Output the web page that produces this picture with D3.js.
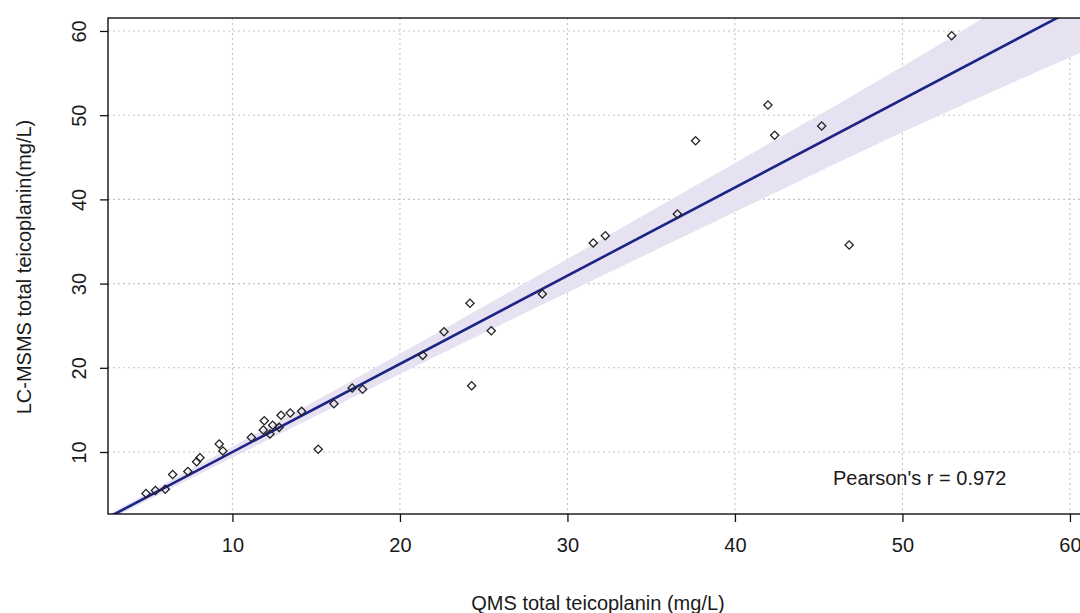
<!DOCTYPE html>
<html>
<head>
<meta charset="utf-8">
<script src="https://cdn.jsdelivr.net/npm/d3@7"></script>
<style>
  html, body { margin: 0; padding: 0; background: #fff; }
  svg { display: block; }
  text { font-family: "Liberation Sans", Arial, sans-serif; fill: #1a1a1a; }
</style>
</head>
<body>
<script>
// ---- data ----
const qmsX = [4.84, 5.40, 5.99, 6.43, 7.34, 7.86, 8.06, 9.21, 9.43, 11.13,
              11.84, 11.90, 12.24, 12.40, 12.79, 12.90, 13.45, 14.13, 15.12, 16.06,
              17.15, 17.77, 21.36, 22.63, 24.18, 24.28, 25.45, 28.50, 31.54, 32.26,
              36.56, 37.65, 41.97, 42.37, 45.18, 46.82, 52.94];
const lcmsY = [5.07, 5.43, 5.57, 7.33, 7.68, 8.85, 9.32, 10.95, 10.12, 11.72,
               12.61, 13.72, 12.14, 13.17, 12.93, 14.36, 14.63, 14.83, 10.32, 15.74,
               17.60, 17.45, 21.48, 24.29, 27.66, 17.87, 24.41, 28.77, 34.82, 35.69,
               38.27, 46.97, 51.21, 47.61, 48.72, 34.58, 59.44];
const fitIntercept = -0.47;
const fitSlope = 1.047;
const bandX  = [2.57, 10, 20, 30, 40, 50, 60.66];
const bandLo = [1.87, 9.35, 19.27, 28.94, 38.51, 47.98, 57.44];
const bandHi = [2.57, 10.65, 21.67, 32.94, 44.31, 55.78, 68.64];
const xTicks = [10, 20, 30, 40, 50, 60];
const yTicks = [10, 20, 30, 40, 50, 60];
const xTitle = "QMS total teicoplanin (mg/L)";
const yTitle = "LC-MSMS total teicoplanin(mg/L)";
const annotation = "Pearson's r = 0.972";

// ---- layout ----
const W = 1080, H = 613;
const L = 108, R = 1081, T = 18, B = 514;
const x = d3.scaleLinear().domain([2.57, 60.66]).range([L, R]);
const y = d3.scaleLinear().domain([2.64, 61.54]).range([B, T]);

const svg = d3.select("body").append("svg").attr("width", W).attr("height", H);

svg.append("defs").append("clipPath").attr("id", "clip")
  .append("rect").attr("x", L).attr("y", T).attr("width", R - L).attr("height", B - T);

// grid
const grid = svg.append("g").attr("stroke", "#c4c4c4").attr("stroke-width", 1.1)
  .attr("stroke-dasharray", "2,3");
grid.selectAll(".gx").data(xTicks).join("line")
  .attr("x1", d => x(d)).attr("x2", d => x(d)).attr("y1", T).attr("y2", B);
grid.selectAll(".gy").data(yTicks).join("line")
  .attr("y1", d => y(d)).attr("y2", d => y(d)).attr("x1", L).attr("x2", R);

const plot = svg.append("g").attr("clip-path", "url(#clip)");

// confidence band
const bandData = bandX.map((v, i) => ({x: v, lo: bandLo[i], hi: bandHi[i]}));
plot.append("path").datum(bandData)
  .attr("fill", "#e6e2f1").attr("stroke", "none")
  .attr("d", d3.area().curve(d3.curveMonotoneX)
    .x(d => x(d.x)).y0(d => y(d.lo)).y1(d => y(d.hi)));

// regression line
const fitPts = x.domain().map(v => ({x: v, y: fitIntercept + fitSlope * v}));
plot.append("path").datum(fitPts)
  .attr("fill", "none").attr("stroke", "#1c2384").attr("stroke-width", 2.6)
  .attr("d", d3.line().x(d => x(d.x)).y(d => y(d.y)));

// points (diamonds)
const pts = qmsX.map((v, i) => ({x: v, y: lcmsY[i]}));
const diamond = d3.symbol().type(d3.symbolSquare).size(34);
plot.selectAll(".pt").data(pts).join("path")
  .attr("d", diamond)
  .attr("transform", d => `translate(${x(d.x)},${y(d.y)}) rotate(45)`)
  .attr("fill", "none").attr("stroke", "#222").attr("stroke-width", 1.3);

// box
svg.append("rect").attr("x", L).attr("y", T).attr("width", R - L).attr("height", B - T)
  .attr("fill", "none").attr("stroke", "#111").attr("stroke-width", 1.4);

// axes
const xAxis = svg.append("g").attr("transform", `translate(0,${B})`)
  .call(d3.axisBottom(x).tickValues(xTicks).tickSize(8).tickPadding(16).tickFormat(d3.format("d")));
const yAxis = svg.append("g").attr("transform", `translate(${L},0)`)
  .call(d3.axisLeft(y).tickValues(yTicks).tickSize(8).tickPadding(12).tickFormat(d3.format("d")));
[xAxis, yAxis].forEach(a => {
  a.select(".domain").remove();
  a.selectAll(".tick line").attr("stroke", "#111").attr("stroke-width", 1.3);
  a.selectAll("text").attr("font-size", 20).attr("fill", "#1a1a1a")
    .style("font-family", '"Liberation Sans", Arial, sans-serif');
});
xAxis.selectAll(".tick text").attr("dy", "0.71em");
yAxis.selectAll(".tick text")
  .attr("text-anchor", "middle").attr("dy", 0).attr("x", 0)
  .attr("transform", "translate(-29,0) rotate(-90)")
  .attr("dominant-baseline", "central");

// titles
svg.append("text").attr("x", 598).attr("y", 610).attr("text-anchor", "middle")
  .attr("font-size", 20).text(xTitle);
svg.append("text").attr("transform", "translate(31,267) rotate(-90)")
  .attr("text-anchor", "middle").attr("font-size", 20).text(yTitle);

// annotation
svg.append("text").attr("x", 833).attr("y", 485).attr("font-size", 20).text(annotation);
</script>
</body>
</html>
